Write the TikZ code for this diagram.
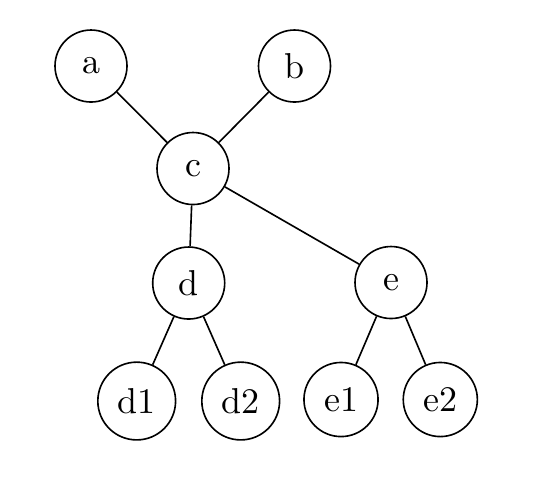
\documentclass[tikz,border=0pt]{standalone}
\begin{document}
\begin{tikzpicture}[x=0.27778pt,y=-0.27778pt,
  vert/.style={draw,circle,minimum size=20pt,inner sep=3.2pt,line width=0.45pt},
  edge/.style={line width=0.45pt}]
\useasboundingbox (0,0) rectangle (540,481);
\node[vert] (a) at (91,66) {a};
\node[vert] (b) at (294.5,66) {b};
\node[vert] (c) at (193,168.5) {c};
\node[vert] (d) at (188.7,283) {d};
\node[vert] (e) at (391,282.5) {e};
\node[vert] (d1) at (136.7,401) {d1};
\node[vert] (d2) at (240.7,401) {d2};
\node[vert] (e1) at (341,399.5) {e1};
\node[vert] (e2) at (440.3,399.5) {e2};
\draw[edge] (a) -- (c);
\draw[edge] (b) -- (c);
\draw[edge] (c) -- (d);
\draw[edge] (c) -- (e);
\draw[edge] (d) -- (d1);
\draw[edge] (d) -- (d2);
\draw[edge] (e) -- (e1);
\draw[edge] (e) -- (e2);
\end{tikzpicture}
\end{document}
